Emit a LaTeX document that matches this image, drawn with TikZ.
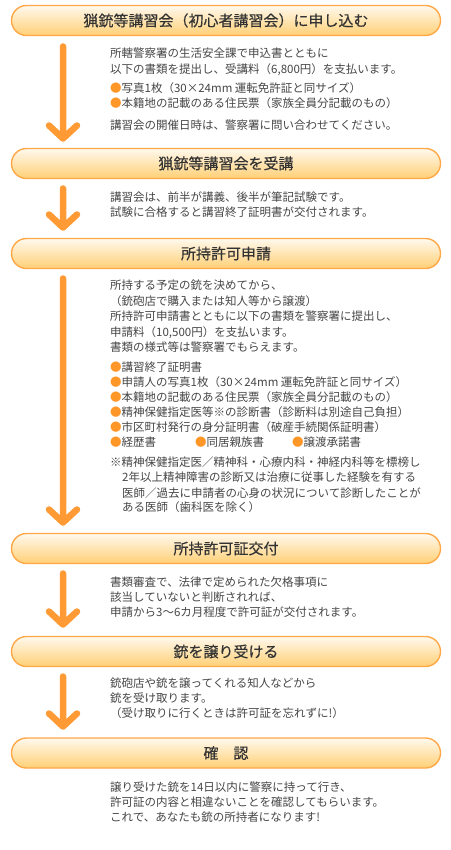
\documentclass[tikz,border=0pt]{standalone}
\usepackage{fontspec}
\newfontfamily\jpfont{Noto Sans CJK JP}
\newfontfamily\jphead[FakeBold=0.35]{Noto Sans CJK JP}
\usepackage{tikz}
\usepackage{color}
\definecolor{box-line}{RGB}{255,168,72}
\definecolor{box-top}{RGB}{255,249,238}
\definecolor{box-bottom}{RGB}{255,208,118}
\definecolor{flow-orange}{RGB}{255,154,52}
\definecolor{dot-orange}{RGB}{255,150,40}
\definecolor{head-text}{RGB}{51,51,51}
\definecolor{body-text}{RGB}{70,70,70}
\tikzset{ head/.style ={draw=box-line, line width=1.4pt, rounded corners=15pt, top color=box-top, bottom color=box-bottom, minimum width=429pt, minimum height=30pt, inner sep=0pt, text=head-text, font=\jphead\fontsize{15}{15}\selectfont} }
\tikzset{ body/.style ={anchor=west, inner sep=0pt, text=body-text, text height=10pt, text depth=1.5pt, font=\jpfont\fontsize{11.5}{11.5}\selectfont} }
\tikzset{ flow/.style ={draw=flow-orange, line width=6.5pt, line cap=round, line join=round} }
\newcommand{\flowdot}{{\color{dot-orange}●}}

\begin{document}
\begin{tikzpicture}[x=1pt, y={(0pt,-1pt)}]
    \path[fill=white] (0,0) rectangle (450,850);

    \node[head] (h1) at (226, 20.5) {猟銃等講習会（初心者講習会）に申し込む};

    \node[body] (t1_l0) at (110,  53) {所轄警察署の生活安全課で申込書とともに};
    \node[body] (t1_l1) at (110,  69) {以下の書類を提出し、受講料（6,800円）を支払います。};
    \node[body] (t1_l2) at (110,  88) {\flowdot 写真1枚（30×24mm 運転免許証と同サイズ）};
    \node[body] (t1_l3) at (110, 103) {\flowdot 本籍地の記載のある住民票（家族全員分記載のもの）};
    \node[body] (t1_l4) at (110, 125) {講習会の開催日時は、警察署に問い合わせてください。};

    \coordinate (a1_top) at (63,  46.5);
    \coordinate (a1_tip) at (63, 138.5);
    \draw[flow] (a1_top) -- (a1_tip) -- +(-14,-13) (a1_tip) -- +(14,-13);

    \node[head] (h2) at (226, 163.5) {猟銃等講習会を受講};

    \node[body] (t2_l0) at (110, 197) {講習会は、前半が講義、後半が筆記試験です。};
    \node[body] (t2_l1) at (110, 212) {試験に合格すると講習終了証明書が交付されます。};

    \coordinate (a2_top) at (63, 188.5);
    \coordinate (a2_tip) at (63, 227.5);
    \draw[flow] (a2_top) -- (a2_tip) -- +(-14,-13) (a2_tip) -- +(14,-13);

    \node[head] (h3) at (226, 253.5) {所持許可申請};

    \node[body] (t3_l0)  at (110, 285) {所持する予定の銃を決めてから、};
    \node[body] (t3_l1)  at (110, 301) {（銃砲店で購入または知人等から譲渡）};
    \node[body] (t3_l2)  at (110, 316.5) {所持許可申請書とともに以下の書類を警察署に提出し、};
    \node[body] (t3_l3)  at (110, 332) {申請料（10,500円）を支払います。};
    \node[body] (t3_l4)  at (110, 347) {書類の様式等は警察署でもらえます。};
    \node[body] (t3_l5)  at (110, 367) {\flowdot 講習終了証明書};
    \node[body] (t3_l6)  at (110, 382) {\flowdot 申請人の写真1枚（30×24mm 運転免許証と同サイズ）};
    \node[body] (t3_l7)  at (110, 397) {\flowdot 本籍地の記載のある住民票（家族全員分記載のもの）};
    \node[body] (t3_l8)  at (110, 412) {\flowdot 精神保健指定医等※の診断書（診断料は別途自己負担）};
    \node[body] (t3_l9)  at (110, 427) {\flowdot 市区町村発行の身分証明書（破産手続関係証明書）};
    \node[body] (t3_l10) at (110, 442) {\flowdot 経歴書};
    \node[body] (t3_l11) at (195, 442) {\flowdot 同居親族書};
    \node[body] (t3_l12) at (292, 442) {\flowdot 譲渡承諾書};
    \node[body] (t3_l13) at (110, 462) {※精神保健指定医／精神科・心療内科・神経内科等を標榜し};
    \node[body] (t3_l14) at (122, 477.5) {2年以上精神障害の診断又は治療に従事した経験を有する};
    \node[body] (t3_l15) at (122, 493) {医師／過去に申請者の心身の状況について診断したことが};
    \node[body] (t3_l16) at (122, 507.5) {ある医師（歯科医を除く）};

    \coordinate (a3_top) at (63, 278.5);
    \coordinate (a3_tip) at (63, 522.5);
    \draw[flow] (a3_top) -- (a3_tip) -- +(-14,-13) (a3_tip) -- +(14,-13);

    \node[head] (h4) at (226, 548.5) {所持許可証交付};

    \node[body] (t4_l0) at (110, 582) {書類審査で、法律で定められた欠格事項に};
    \node[body] (t4_l1) at (110, 597) {該当していないと判断されれば、};
    \node[body] (t4_l2) at (110, 612) {申請から3～6カ月程度で許可証が交付されます。};

    \coordinate (a4_top) at (63, 573.5);
    \coordinate (a4_tip) at (63, 624.5);
    \draw[flow] (a4_top) -- (a4_tip) -- +(-14,-13) (a4_tip) -- +(14,-13);

    \node[head] (h5) at (226, 651.5) {銃を譲り受ける};

    \node[body] (t5_l0) at (110, 683) {銃砲店や銃を譲ってくれる知人などから};
    \node[body] (t5_l1) at (110, 698) {銃を受け取ります。};
    \node[body] (t5_l2) at (110, 713) {（受け取りに行くときは許可証を忘れずに!）};

    \coordinate (a5_top) at (63, 676.5);
    \coordinate (a5_tip) at (63, 726.5);
    \draw[flow] (a5_top) -- (a5_tip) -- +(-14,-13) (a5_tip) -- +(14,-13);

    \node[head] (h6) at (226, 753) {確　認};

    \node[body] (t6_l0) at (110, 787) {譲り受けた銃を14日以内に警察に持って行き、};
    \node[body] (t6_l1) at (110, 802) {許可証の内容と相違ないことを確認してもらいます。};
    \node[body] (t6_l2) at (110, 817) {これで、あなたも銃の所持者になります!};
\end{tikzpicture}
\end{document}
